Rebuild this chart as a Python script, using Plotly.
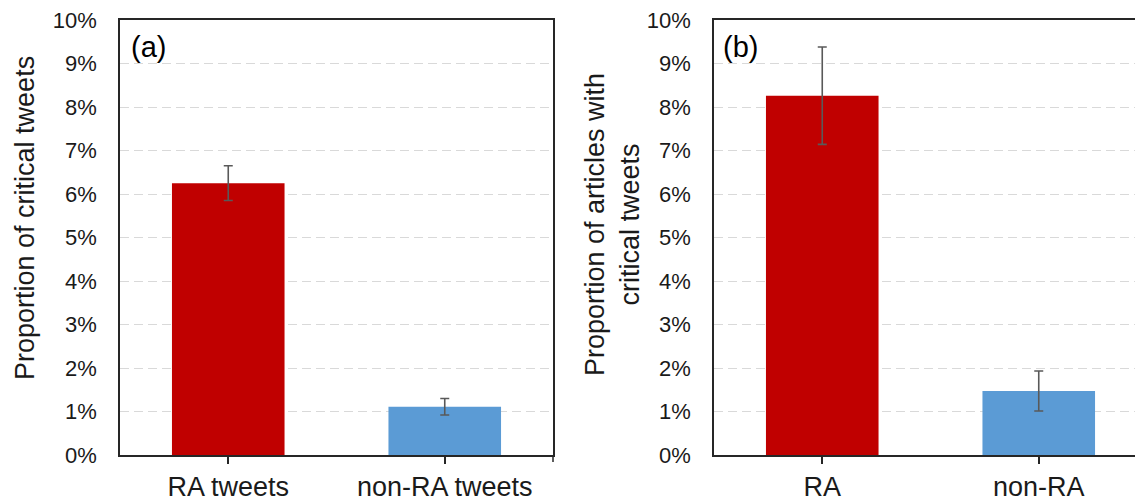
import plotly.graph_objects as go

cats_a = ["RA tweets", "non-RA tweets"]
vals_a = [6.25, 1.11]
err_a = [0.40, 0.19]

cats_b = ["RA", "non-RA"]
vals_b = [8.26, 1.47]
err_b = [1.12, 0.46]

colors = ["#C00000", "#5B9BD5"]
y_ticks = list(range(0, 11))
y_labels = [f"{v}%" for v in y_ticks]

# the page body adds an 8px margin, so the figure is drawn 8px smaller
W, H = 1135, 494
TOP, BOT = 12, 447
PH = BOT - TOP
FONT = "Liberation Sans, Arial, sans-serif"
TXT = "#1a1a1a"

fig = go.Figure()
fig.add_trace(go.Bar(x=cats_a, y=vals_a, marker_color=colors, width=0.52,
                     marker_line_width=0,
                     error_y=dict(type="data", array=err_a, color="#595959", thickness=1.6, width=4.5),
                     xaxis="x", yaxis="y", showlegend=False))
fig.add_trace(go.Bar(x=cats_b, y=vals_b, marker_color=colors, width=0.52,
                     marker_line_width=0,
                     error_y=dict(type="data", array=err_b, color="#595959", thickness=1.6, width=4.5),
                     xaxis="x2", yaxis="y2", showlegend=False))

xa = dict(type="category", showline=True, linecolor="#262626", linewidth=1.5,
          ticks="outside", ticklen=7, tickcolor="#262626", tickwidth=1.5,
          tickfont=dict(size=27, color=TXT, family=FONT), showgrid=False,
          ticklabelstandoff=0, fixedrange=True, ticklabeloverflow="allow")
ya = dict(range=[0, 10], tickvals=y_ticks, ticktext=y_labels, showline=True,
          linecolor="#262626", linewidth=1.5, ticks="outside", ticklen=17,
          tickcolor="rgba(0,0,0,0)", tickfont=dict(size=22, color=TXT, family=FONT),
          showgrid=True, gridcolor="#d9d9d9", griddash="9px,5px", gridwidth=1.3,
          zeroline=False, ticklabeloverflow="allow")

fig.update_layout(
    width=W, height=H,
    margin=dict(l=0, r=0, t=TOP, b=H - BOT),
    paper_bgcolor="white", plot_bgcolor="white",
    xaxis=dict(xa, domain=[112 / W, 545 / W], mirror=True, range=[-0.5, 1.5]),
    yaxis=dict(ya, mirror=True, anchor="x"),
    xaxis2=dict(xa, domain=[706 / W, 1.0], mirror=True, range=[-0.5, -0.5 + 429 / 216.5], anchor="y2"),
    yaxis2=dict(ya, mirror=False, anchor="x2"),
    font=dict(family=FONT, color=TXT),
)

# right-edge tick mark of panel (a)
fig.add_shape(type="line", xref="x domain", yref="y domain", x0=1, x1=1, y0=0, y1=-7 / PH,
              line=dict(color="#262626", width=1.5))

fig.add_annotation(text="(a)", xref="paper", yref="paper", x=121 / W, y=(BOT - 39) / PH,
                   xanchor="left", yanchor="middle", showarrow=False,
                   font=dict(size=29, color="#000000", family=FONT))
fig.add_annotation(text="(b)", xref="paper", yref="paper", x=713 / W, y=(BOT - 39) / PH,
                   xanchor="left", yanchor="middle", showarrow=False,
                   font=dict(size=29, color="#000000", family=FONT))

fig.add_annotation(text="Proportion of critical tweets", xref="paper", yref="paper",
                   x=17 / W, y=(BOT - 210) / PH, xanchor="center", yanchor="middle",
                   textangle=-90, showarrow=False, font=dict(size=27, color=TXT, family=FONT))
fig.add_annotation(text="Proportion of articles with<br>critical tweets", xref="paper", yref="paper",
                   x=604 / W, y=(BOT - 217) / PH, xanchor="center", yanchor="middle",
                   textangle=-90, showarrow=False, font=dict(size=27, color=TXT, family=FONT))

fig.write_html("out.html")
